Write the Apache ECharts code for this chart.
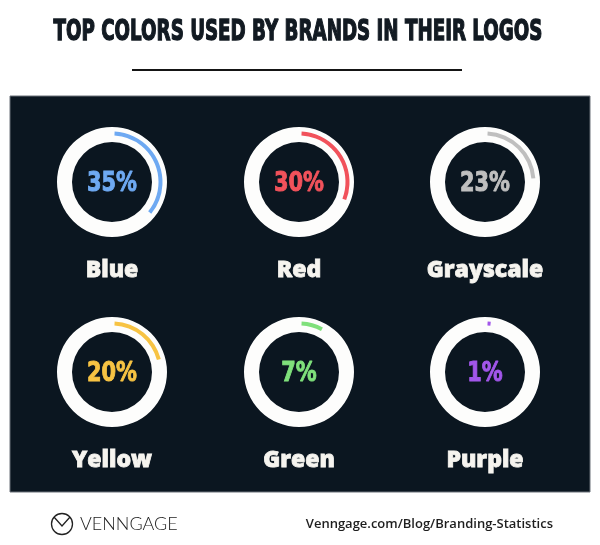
<!DOCTYPE html>
<html>
<head>
<meta charset="utf-8">
<script src="https://cdn.jsdelivr.net/npm/echarts@6/dist/echarts.min.js"></script>
<style>
  html, body { margin: 0; padding: 0; background: #fff; }
  #chart { width: 600px; height: 545px; }
</style>
</head>
<body>
<div id="chart"></div>
<script>
// data
const categories = ['Blue', 'Red', 'Grayscale', 'Yellow', 'Green', 'Purple']
const shares = [35, 30, 23, 20, 7, 1]
const arcColors = ['#6ea9f2', '#f1525b', '#bfbfbf', '#f7c343', '#7fe07b', '#a256ea']

// layout of the 3x2 grid
const colX = [112, 299, 485]
const rowY = [182, 372]

// measure text so condensed fonts can be faked with scaleX
const measureCtx = document.createElement('canvas').getContext('2d')
const textWidth = (font, str) => {
  measureCtx.font = font
  return measureCtx.measureText(str).width
}

const titleText = 'TOP COLORS USED BY BRANDS IN THEIR LOGOS'
const titleFont = 'bold 28px "DejaVu Sans"'
const titleScale = 489 / textWidth(titleFont, titleText)

const pctFont = 'bold 27px "DejaVu Sans"'
const pctScale = 50 / textWidth(pctFont, '35%')

const chart = echarts.init(document.getElementById('chart'))

const series = []
const graphics = [
  // dark panel
  {
    type: 'rect', z: -10,
    shape: { x: 10, y: 96, width: 580, height: 396 },
    style: { fill: '#0b1620', stroke: '#6b7178', lineWidth: 1 }
  },
  // title
  {
    type: 'text', z: 10,
    x: 298, y: 33, scaleX: titleScale,
    style: {
      text: titleText, font: titleFont, fill: '#121a22',
      stroke: '#121a22', lineWidth: 1.4,
      align: 'center', verticalAlign: 'middle'
    }
  },
  // underline
  {
    type: 'line', z: 10,
    shape: { x1: 132, y1: 70, x2: 462, y2: 70 },
    style: { stroke: '#151515', lineWidth: 2 }
  },
  // footer logo
  {
    type: 'circle', z: 10,
    shape: { cx: 62, cy: 524, r: 10.5 },
    style: { fill: 'none', stroke: '#222', lineWidth: 1.3 }
  },
  {
    type: 'polyline', z: 10,
    shape: { points: [[54, 517], [62, 526], [70, 517]] },
    style: { fill: 'none', stroke: '#222', lineWidth: 1.3 }
  },
  {
    type: 'text', z: 10, x: 80, y: 524,
    style: {
      text: 'VENNGAGE', font: '300 18px Lato', fill: '#222',
      verticalAlign: 'middle'
    }
  },
  {
    type: 'text', z: 10, x: 553, y: 524,
    style: {
      text: 'Venngage.com/Blog/Branding-Statistics',
      font: '600 13px "Open Sans"', fill: '#1e1e1e',
      align: 'right', verticalAlign: 'middle'
    }
  }
]

categories.forEach((name, i) => {
  const cx = colX[i % 3]
  const cy = rowY[Math.floor(i / 3)]

  // white ring
  series.push({
    type: 'pie',
    silent: true,
    animation: false,
    center: [cx, cy],
    radius: [40, 55],
    label: { show: false },
    labelLine: { show: false },
    data: [{ value: 100, name: name + ' ring', itemStyle: { color: '#fdfdfc' } }]
  })

  // coloured share arc
  series.push({
    type: 'pie',
    silent: true,
    animation: false,
    center: [cx, cy],
    radius: [46.5, 50.5],
    startAngle: 87,
    clockwise: true,
    label: { show: false },
    labelLine: { show: false },
    data: [
      { value: shares[i], name: name, itemStyle: { color: arcColors[i] } },
      { value: 100 - shares[i], name: 'rest', itemStyle: { color: 'transparent' } }
    ]
  })

  // percentage in the middle
  graphics.push({
    type: 'text', z: 20,
    x: cx, y: cy + 2, scaleX: pctScale,
    style: {
      text: shares[i] + '%', font: pctFont, fill: arcColors[i],
      stroke: arcColors[i], lineWidth: 1,
      align: 'center', verticalAlign: 'middle'
    }
  })

  // category name
  graphics.push({
    type: 'text', z: 20,
    x: cx, y: cy + 88,
    style: {
      text: name, font: '800 23px "Open Sans"', fill: '#f6f4ef',
      stroke: '#f6f4ef', lineWidth: 0.8,
      align: 'center', verticalAlign: 'middle'
    }
  })
})

chart.setOption({
  backgroundColor: '#ffffff',
  animation: false,
  series: series,
  graphic: graphics
})
</script>
</body>
</html>
